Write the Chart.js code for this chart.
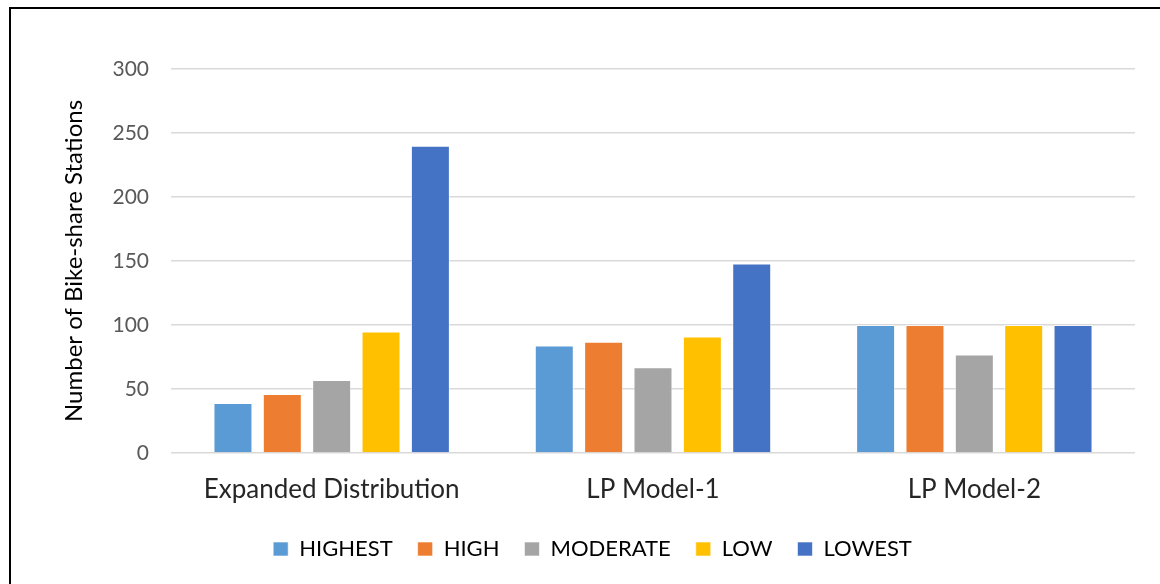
<!DOCTYPE html>
<html>
<head>
<meta charset="utf-8">
<script src="https://cdn.jsdelivr.net/npm/chart.js@4"></script>
<style>
  html, body { margin: 0; padding: 0; background: #fff; overflow: hidden; }
  #frame { position: absolute; left: 9px; top: 7px; width: 1200px; height: 640px; border: 2px solid #000; }
  #wrap { position: absolute; left: 0; top: 0; width: 1160px; height: 584px; }
</style>
</head>
<body>
<div id="frame"></div>
<div id="wrap"><canvas id="chart" width="1160" height="584"></canvas></div>
<script>
// categories and series
const categories = ['Expanded Distribution', 'LP Model-1', 'LP Model-2'];
const highest  = [39, 84, 100];
const high     = [46, 87, 100];
const moderate = [57, 67, 77];
const low      = [95, 91, 100];
const lowest   = [240, 148, 100];
const yTicks = [0, 50, 100, 150, 200, 250, 300];

const FONT = "Lato, 'Open Sans', sans-serif";

const mk = (label, data, color) => ({
    label, data, backgroundColor: color,
    borderColor: 'rgba(255,255,255,0.6)', borderWidth: 1,
    categoryPercentage: 0.768, barPercentage: 0.79
});

new Chart(document.getElementById('chart'), {
    type: 'bar',
    data: {
        labels: categories,
        datasets: [
            mk('HIGHEST', highest, '#5B9BD5'),
            mk('HIGH', high, '#ED7D31'),
            mk('MODERATE', moderate, '#A5A5A5'),
            mk('LOW', low, '#FFC000'),
            mk('LOWEST', lowest, '#4472C4')
        ]
    },
    options: {
        responsive: false,
        animation: false,
        layout: { padding: { left: 50, right: 25, top: 69, bottom: 14 } },
        plugins: {
            tooltip: { enabled: false },
            legend: {
                position: 'bottom',
                labels: {
                    font: { family: FONT, size: 22 },
                    color: '#000',
                    boxWidth: 15, boxHeight: 14,
                    padding: 25
                }
            }
        },
        scales: {
            x: {
                grid: { display: false },
                border: { display: false },
                ticks: { font: { family: FONT, size: 26 }, color: '#262626', padding: 13 },
                afterFit: s => { s.height = 60; }
            },
            y: {
                min: 0, max: 300,
                afterBuildTicks: s => { s.ticks = yTicks.map(v => ({ value: v })); },
                grid: { color: '#d9d9d9', lineWidth: 1.5, drawTicks: false },
                border: { display: false },
                ticks: { font: { family: FONT, size: 21 }, color: '#595959', padding: 22 },
                title: {
                    display: true, text: 'Number of Bike-share Stations',
                    font: { family: FONT, size: 24 }, color: '#000',
                    padding: { top: 10, bottom: 0 }
                },
                afterFit: s => { s.width = 121; }
            }
        }
    }
});
</script>
</body>
</html>
